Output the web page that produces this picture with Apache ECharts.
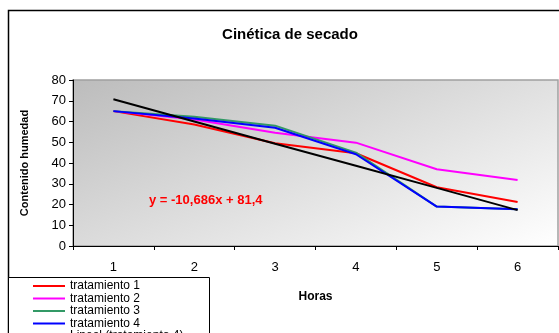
<!DOCTYPE html>
<html>
<head>
<meta charset="utf-8">
<script src="https://cdn.jsdelivr.net/npm/echarts@6/dist/echarts.min.js"></script>
<style>
  html, body { margin: 0; padding: 0; background: #fff; }
  #chart { width: 559px; height: 333px; }
</style>
</head>
<body>
<div id="chart"></div>
<script>
const horas = ['1', '2', '3', '4', '5', '6']
const tratamiento1 = [65, 58.6, 49.5, 44.7, 28.3, 21.2]
const tratamiento2 = [65, 61, 54.6, 49.8, 37, 31.8]
const tratamiento3 = [65, 62.3, 58, 45, 19, 17.7]
const tratamiento4 = [65, 61.5, 57, 44.2, 19, 17.7]
const lineal4 = [70.7, 60, 49.3, 38.7, 28, 17.3]
const yTicks = { min: 0, max: 80, interval: 10 }

const font = '"Liberation Sans", Arial, sans-serif'
const chart = echarts.init(document.getElementById('chart'), null, { renderer: 'canvas' })

function line(name, data, color) {
  return {
    name: name,
    type: 'line',
    data: data,
    symbol: 'none',
    lineStyle: { color: color, width: 2 },
    itemStyle: { color: color }
  }
}

const option = {
  animation: false,
  backgroundColor: '#fff',
  textStyle: { fontFamily: font },
  title: {
    text: 'Cinética de secado',
    left: 285,
    textAlign: 'center',
    top: 22,
    textStyle: { fontFamily: font, fontSize: 15, fontWeight: 'bold', color: '#000' }
  },
  grid: {
    left: 73,
    right: 1,
    top: 80,
    bottom: 87,
    show: true,
    borderColor: '#a0a0a0',
    borderWidth: 1.5,
    // diagonal grey-to-white fill, in page coordinates
    backgroundColor: new echarts.graphic.LinearGradient(73, 80, 198, 391, [
      { offset: 0, color: '#bcbcbc' },
      { offset: 1, color: '#ffffff' }
    ], true)
  },
  legend: {
    orient: 'vertical',
    left: 33,
    top: 280,
    height: 120,
    padding: 0,
    z: 20,
    itemGap: 0.5,
    itemWidth: 32,
    itemHeight: 2,
    icon: 'rect',
    textStyle: { fontFamily: font, fontSize: 12, color: '#000', lineHeight: 11 },
    data: ['tratamiento 1', 'tratamiento 2', 'tratamiento 3', 'tratamiento 4', 'Lineal (tratamiento 4)']
  },
  xAxis: {
    type: 'category',
    data: horas,
    boundaryGap: true,
    name: 'Horas',
    nameLocation: 'middle',
    nameGap: 45,
    nameTextStyle: { fontFamily: font, fontSize: 12, fontWeight: 'bold', color: '#000' },
    axisLine: { lineStyle: { color: '#000', width: 1 } },
    axisTick: { show: true, length: 4, lineStyle: { color: '#000' } },
    axisLabel: { fontFamily: font, fontSize: 13, color: '#000', margin: 15 },
    splitLine: { show: false }
  },
  yAxis: {
    type: 'value',
    min: yTicks.min,
    max: yTicks.max,
    interval: yTicks.interval,
    name: 'Contenido humedad',
    nameLocation: 'middle',
    nameGap: 43,
    nameTextStyle: { fontFamily: font, fontSize: 11, fontWeight: 'bold', color: '#000' },
    axisLine: { show: true, lineStyle: { color: '#000', width: 1 } },
    axisTick: { show: true, length: 4, lineStyle: { color: '#000' } },
    axisLabel: { fontFamily: font, fontSize: 13, color: '#000', margin: 7 },
    splitLine: { show: false }
  },
  series: [
    line('tratamiento 1', tratamiento1, '#ff0000'),
    line('tratamiento 2', tratamiento2, '#ff00ff'),
    line('tratamiento 3', tratamiento3, '#339966'),
    line('tratamiento 4', tratamiento4, '#0000ff'),
    line('Lineal (tratamiento 4)', lineal4, '#000000')
  ],
  graphic: [
    {
      type: 'rect',
      z: -10,
      silent: true,
      shape: { x: 8.5, y: 10.5, width: 600, height: 400 },
      style: { fill: 'none', stroke: '#000', lineWidth: 1.5 }
    },
    {
      type: 'rect',
      z: 1,
      silent: true,
      shape: { x: 8.5, y: 277.5, width: 201, height: 80 },
      style: { fill: '#fff', stroke: '#000', lineWidth: 1 }
    },
    {
      type: 'text',
      z: 20,
      left: 149,
      top: 194,
      style: {
        text: 'y = -10,686x + 81,4',
        font: 'bold 13px ' + font,
        fill: '#ff0000'
      }
    }
  ]
}

chart.setOption(option)
</script>
</body>
</html>
